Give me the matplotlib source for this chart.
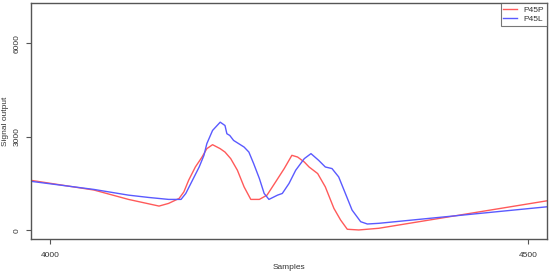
import numpy as np
import matplotlib.pyplot as plt

plt.rcParams["font.family"] = ["Liberation Sans", "DejaVu Sans"]

# P45P (red)
p45p_x = [3979, 4046, 4082, 4114, 4124, 4135, 4140, 4145, 4152, 4159, 4164, 4170,
          4178, 4183, 4189, 4196, 4203, 4210, 4219, 4227, 4236, 4245, 4253, 4259,
          4266, 4271, 4280, 4288, 4297, 4304, 4311, 4323, 4344, 4520]
p45p_y = [1606, 1290, 990, 776, 862, 1021, 1232, 1606, 2030, 2349, 2617, 2745,
          2617, 2509, 2298, 1925, 1392, 990, 990, 1127, 1551, 1979, 2404, 2349,
          2190, 2030, 1819, 1392, 702, 329, 32, 10, 64, 945]

# P45L (blue)
p45l_x = [3979, 4046, 4082, 4103, 4124, 4137, 4142, 4149, 4156, 4161, 4164, 4170,
          4178, 4183, 4185, 4188, 4192, 4203, 4208, 4213, 4219, 4224, 4229, 4238,
          4243, 4250, 4257, 4266, 4273, 4281, 4288, 4295, 4302, 4309, 4316, 4325,
          4332, 4344, 4520]
p45l_y = [1574, 1309, 1127, 1053, 990, 990, 1181, 1606, 2030, 2404, 2777, 3202,
          3467, 3361, 3096, 3042, 2882, 2669, 2509, 2139, 1660, 1181, 990, 1127,
          1181, 1500, 1925, 2298, 2458, 2244, 2030, 1979, 1711, 1181, 648, 275,
          201, 223, 753]

xticks = [4000, 4500]
yticks = [0, 3000, 6000]

fig = plt.figure(figsize=(5.5, 2.73), dpi=100)
ax = fig.add_axes([31 / 550, 1 - 239 / 273, 516 / 550, 235.7 / 273])

ax.plot(p45p_x, p45p_y, color="#ff5a5a", lw=1.0, label="P45P")
ax.plot(p45l_x, p45l_y, color="#5a5aff", lw=1.0, label="P45L")

# R style 4% padding
ax.set_xlim(4000 - 20, 4500 + 20)
ax.set_ylim(-280, 7280)

for s in ax.spines.values():
    s.set_color("#555555")
    s.set_linewidth(1.0)

ax.set_xticks(xticks)
ax.set_yticks(yticks)
ax.set_yticklabels([str(v) for v in yticks], rotation=90, va="center")
ax.tick_params(length=3.6, width=0.8, color="#555555", labelsize=6,
               labelcolor="#333333")
ax.tick_params(axis="x", pad=6)
ax.tick_params(axis="y", pad=4)
ax.set_xlabel("Samples", fontsize=6, color="#333333", va="center")
ax.set_ylabel("Signal output", fontsize=6, color="#333333", va="center")
ax.xaxis.set_label_coords(0.5, -0.123)
ax.yaxis.set_label_coords(-0.05, 0.5)

leg = ax.legend(loc="upper right", fontsize=6, frameon=True, fancybox=False,
                borderaxespad=0, handlelength=1.6, handletextpad=0.8,
                borderpad=0.35, labelspacing=0.15)
leg.get_frame().set_edgecolor("#555555")
leg.get_frame().set_linewidth(0.8)
for t in leg.get_texts():
    t.set_color("#333333")

fig.savefig("out.png", dpi=100)
